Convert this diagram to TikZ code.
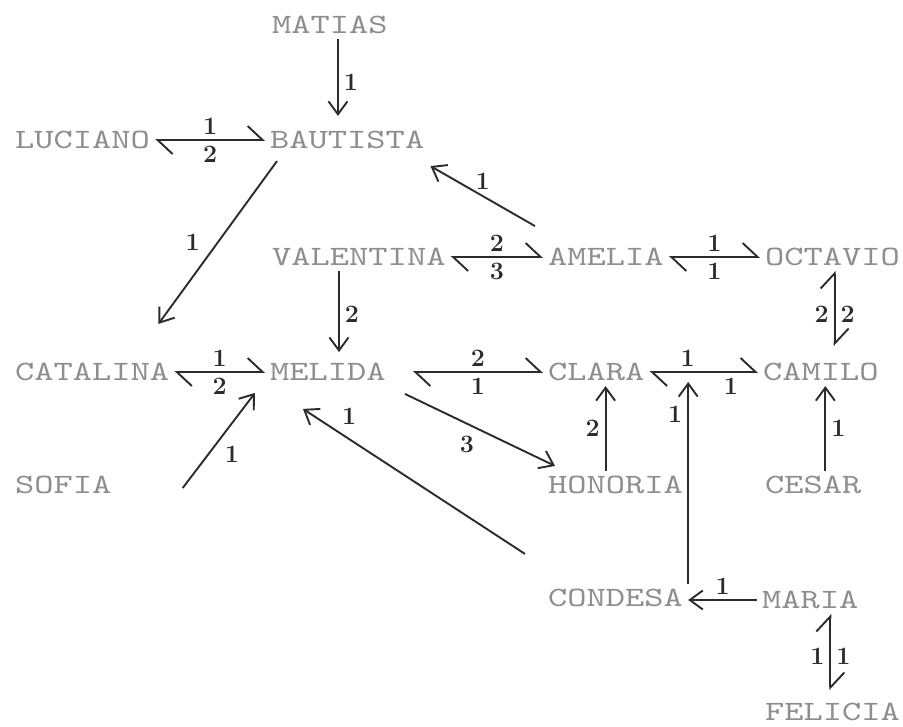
\documentclass[tikz,border=0pt]{standalone}
\usepackage{fontspec}
\usepackage{tikz}
\usetikzlibrary{arrows.meta}
\newfontfamily\typefont{lmmono10-regular.otf}[FakeStretch=1.31]
\definecolor{typeink}{HTML}{8E8E8E}
\definecolor{penink}{HTML}{2B2B2B}

\begin{document}
\begin{tikzpicture}[x=1pt, y=-1pt,
  person/.style={font=\typefont\fontsize{28}{30}\selectfont, text=typeink, inner sep=5pt, anchor=west},
  lbl/.style={font=\bfseries\fontsize{25}{25}\selectfont, text=penink, inner sep=5pt},
  arr/.style={-{Straight Barb[length=13pt, width=19pt]}, penink, line width=1.9pt},
  eq/.style={{Straight Barb[harpoon, length=15pt, width=28pt]}-{Straight Barb[harpoon, length=15pt, width=28pt]},
             penink, line width=1.9pt}]
  \useasboundingbox (0,0) rectangle (903,727);
  % names, typed at the tab stops
  \node[person] (matias)    at (267,25)  {MATIAS};
  \node[person] (luciano)   at (10,140)  {LUCIANO};
  \node[person] (bautista)  at (265,140) {BAUTISTA};
  \node[person] (valentina) at (267,257) {VALENTINA};
  \node[person] (amelia)    at (543,257) {AMELIA};
  \node[person] (octavio)   at (760,257) {OCTAVIO};
  \node[person] (catalina)  at (10,372)  {CATALINA};
  \node[person] (melida)    at (265,372) {MELIDA};
  \node[person] (clara)     at (543,372) {CLARA};
  \node[person] (camilo)    at (758,372) {CAMILO};
  \node[person] (sofia)     at (10,485)  {SOFIA};
  \node[person] (honoria)   at (543,485) {HONORIA};
  \node[person] (cesar)     at (760,485) {CESAR};
  \node[person] (condesa)   at (543,598) {CONDESA};
  \node[person] (maria)     at (757,600) {MARIA};
  \node[person] (felicia)   at (760,712) {FELICIA};

  % one-way links
  \draw[arr, shorten >=10pt] ([xshift=8pt]matias.south) -- ([xshift=8pt]matias.south |- bautista.north)
    node[midway, right, lbl] {1};
  \draw[arr] ([shift={(12,7)}]bautista.south west) -- ([shift={(-16,-34)}]catalina.north east)
    node[midway, left=12pt, lbl] {1};
  \draw[arr] ([shift={(-8,-17)}]amelia.north west) -- ([shift={(1,12)}]bautista.south east)
    node[midway, above=1pt, lbl] {1};
  \draw[arr, shorten >=6pt] ([xshift=11pt]valentina.south -| melida.north) -- ([xshift=11pt]melida.north)
    node[midway, right, lbl] {2};
  \draw[arr] ([shift={(66,3)}]sofia.east) -- ([shift={(-10,7)}]melida.south west)
    node[midway, below right=0pt, lbl] {1};
  \draw[arr] ([shift={(-18,-30)}]condesa.north west) -- ([shift={(-25,23)}]melida.south)
    node[pos=0.85, above right=0pt, lbl] {1};
  \draw[arr] ([shift={(14,8)}]melida.south east) -- ([shift={(12,-5)}]honoria.north west)
    node[midway, below left, lbl] {3};
  \draw[arr] ([xshift=-10pt]honoria.north) -- ([xshift=-10pt]honoria.north |- clara.south)
    node[midway, left, lbl] {2};
  \draw[arr] ([xshift=12pt]cesar.north) -- ([xshift=12pt]cesar.north |- camilo.south)
    node[midway, right, lbl] {1};
  \draw[arr] (maria.west) -- (maria.west -| condesa.east)
    node[midway, above, lbl] {1};

  % two-way links
  \draw[eq] (luciano.east) -- (bautista.west)
    node[midway, above, lbl] {1} node[midway, below, lbl] {2};
  \draw[eq] (valentina.east) -- (amelia.west)
    node[midway, above, lbl] {2} node[midway, below, lbl] {3};
  \draw[eq] (amelia.east) -- (octavio.west)
    node[midway, above, lbl] {1} node[midway, below, lbl] {1};
  \draw[eq] (catalina.east) -- (melida.west)
    node[midway, above, lbl] {1} node[midway, below, lbl] {2};
  \draw[eq] ([xshift=22pt]melida.east) -- (clara.west)
    node[midway, above, lbl] {2} node[midway, below, lbl] {1};
  \draw[eq] (clara.east) -- (camilo.west)
    coordinate[pos=0.35] (tie)
    node[pos=0.35, above, lbl] {1} node[pos=0.75, below, lbl] {1};
  \draw[eq, shorten >=12pt] ([xshift=2pt]octavio.south) -- ([xshift=2pt]octavio.south |- camilo.north)
    node[midway, left, lbl] {2} node[midway, right, lbl] {2};
  \draw[eq, shorten >=8pt] ([xshift=20pt]maria.south) -- ([xshift=20pt]maria.south |- felicia.north)
    node[midway, left, lbl] {1} node[midway, right, lbl] {1};

  % condesa points at the clara--camilo link
  \draw[arr, shorten >=10pt] (condesa.north east) -- (condesa.north east |- tie)
    node[pos=0.8, left, lbl] {1};
\end{tikzpicture}
\end{document}
